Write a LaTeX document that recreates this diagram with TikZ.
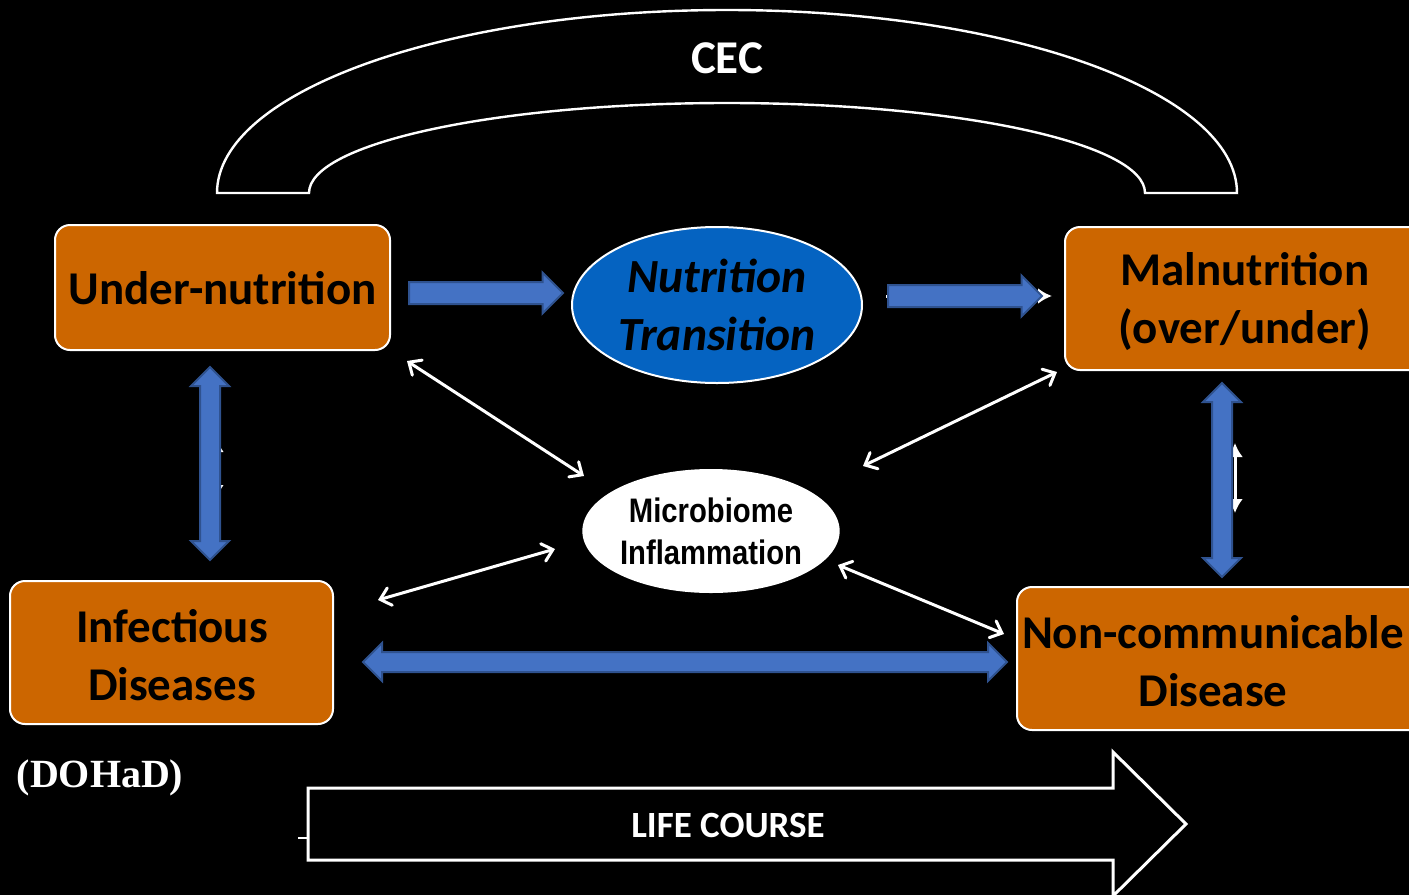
\documentclass[tikz,border=0pt]{standalone}
\usepackage{fontspec}
\setmainfont{Carlito}
\newfontfamily\narrowfont{Liberation Sans}[FakeStretch=0.86]
\newfontfamily\timesfont{Liberation Serif}
\usetikzlibrary{shapes.geometric,shapes.arrows,arrows.meta}

\definecolor{boxorange}{RGB}{204,102,0}
\definecolor{ovalblue}{RGB}{5,99,193}
\definecolor{barblue}{RGB}{68,114,196}
\definecolor{baredge}{RGB}{47,82,143}

\tikzset{
  stagebox/.style={draw=white, line width=1pt, fill=boxorange, rounded corners=7.5pt,
    inner sep=0pt, align=center, font=\bfseries\fontsize{23.5}{29}\selectfont, text=black},
  bluebar/.style={single arrow, draw=baredge, fill=barblue, line width=1pt,
    inner sep=0pt, inner ysep=5pt, single arrow head extend=4.75pt,
    single arrow head indent=0pt, minimum height=#1, anchor=tail},
  bluebidir/.style={double arrow, draw=baredge, fill=barblue, line width=1pt,
    inner sep=0pt, inner ysep=4.5pt, double arrow head extend=4.5pt,
    double arrow head indent=0pt, minimum height=#1},
  thinlink/.style={draw=white, line width=1.5pt, line cap=round,
    {Straight Barb[length=5pt,width=9pt,line cap=round]}-{Straight Barb[length=5pt,width=9pt,line cap=round]}},
  outline/.style={draw=white, line width=1.2pt},
}

\begin{document}
\begin{tikzpicture}[x=0.5pt,y=-0.5pt]
  % canvas
  \fill[black] (0,0) rectangle (1409,895);
  \useasboundingbox (0,0) rectangle (1409,895);

  % CEC arch over the top
  \draw[outline, line join=miter]
    (217,193) arc[start angle=180, end angle=0, x radius=510, y radius=-183]
    -- (1145,193) arc[start angle=0, end angle=180, x radius=418, y radius=-90]
    -- cycle;
  \node[text=white, font=\bfseries\fontsize{23.5}{28}\selectfont] (cec) at (727,58) {CEC};

  % the four stages
  \path[stagebox] (55,225) rectangle (390,350);
  \node[font=\bfseries\fontsize{23.5}{29}\selectfont] (under) at (222.5,288) {Under-nutrition};

  \path[stagebox] (1065,227) rectangle (1430,370);
  \node[font=\bfseries\fontsize{23.5}{29}\selectfont, align=center] (maln) at (1245,302) {Malnutrition\\(over/under)};

  \path[stagebox] (10,581) rectangle (333,724);
  \node[font=\bfseries\fontsize{23.5}{29}\selectfont, align=center] (infect) at (172,655) {Infectious\\Diseases};

  \path[stagebox] (1017,587) rectangle (1430,730);
  \node[font=\bfseries\fontsize{23.5}{29}\selectfont, align=center] (ncd) at (1213,661) {Non-communicable\\Disease};

  % central ovals
  \node[ellipse, draw=white, line width=1pt, fill=ovalblue, minimum width=145pt, minimum height=78pt,
        inner sep=0pt, align=center, font=\bfseries\itshape\fontsize{23.8}{29}\selectfont] (trans) at (717,305)
        {Nutrition\\Transition};
  \node[ellipse, fill=white, minimum width=125pt, minimum height=62pt, inner sep=0pt, align=center,
        font=\narrowfont\bfseries\fontsize{17}{21}\selectfont] (micro) at (711,531)
        {Microbiome\\Inflammation};

  % white links partly hidden behind the block arrows
  \coordinate (ta) at (886,296);
  \coordinate (tb) at (1052,296);
  \draw[draw=white, line width=1.5pt, -{Latex[length=7pt,width=8pt]}] (ta) -- (tb);
  \coordinate (la) at (217,440);
  \coordinate (lb) at (217,497);
  \draw[draw=white, line width=1.5pt, {Latex[length=6pt,width=7pt]}-{Latex[length=6pt,width=7pt]}] (la) -- (lb);
  \coordinate (ra) at (1235,443);
  \coordinate (rb) at (1235,513);
  \draw[draw=white, line width=1.5pt, {Latex[length=7pt,width=8pt]}-{Latex[length=7pt,width=8pt]}] (ra) -- (rb);

  % blue block arrows
  \node[bluebar=77pt] (b1) at (408,293) {};
  \node[bluebar=77pt] (b2) at (887,296) {};
  \node[bluebidir=96.5pt, rotate=90] (b3) at (210,463.5) {};
  \node[bluebidir=97pt, rotate=90] (b4) at (1222,480) {};
  \node[bluebidir=322pt] (b5) at (685,662) {};

  % thin two-way links around the microbiome oval
  \coordinate (m1a) at (407,361);  \coordinate (m1b) at (584,476);
  \coordinate (m2a) at (1057,372); \coordinate (m2b) at (863,466);
  \coordinate (m3a) at (555,549);  \coordinate (m3b) at (378,600);
  \coordinate (m4a) at (838,565);  \coordinate (m4b) at (1004,634);
  \draw[thinlink] (m1a) -- (m1b);
  \draw[thinlink] (m2a) -- (m2b);
  \draw[thinlink] (m3a) -- (m3b);
  \draw[thinlink] (m4a) -- (m4b);

  % DOHaD label
  \node[text=white, font=\timesfont\bfseries\fontsize{20}{24}\selectfont] (dohad) at (100,778) {(DOHaD)};

  % life course arrow
  \draw[outline, line width=1.5pt, line join=miter]
    (308,788) -- (1113,788) -- (1113,752) -- (1186,824) -- (1113,896)
    -- (1113,860) -- (308,860) -- cycle;
  \coordinate (tick) at (298,838);
  \coordinate (tickend) at (308,838);
  \draw[white, line width=1.2pt] (tick) -- (tickend);
  \node[text=white, font=\bfseries\fontsize{18.5}{22}\selectfont] (life) at (728,825) {LIFE COURSE};
\end{tikzpicture}
\end{document}
